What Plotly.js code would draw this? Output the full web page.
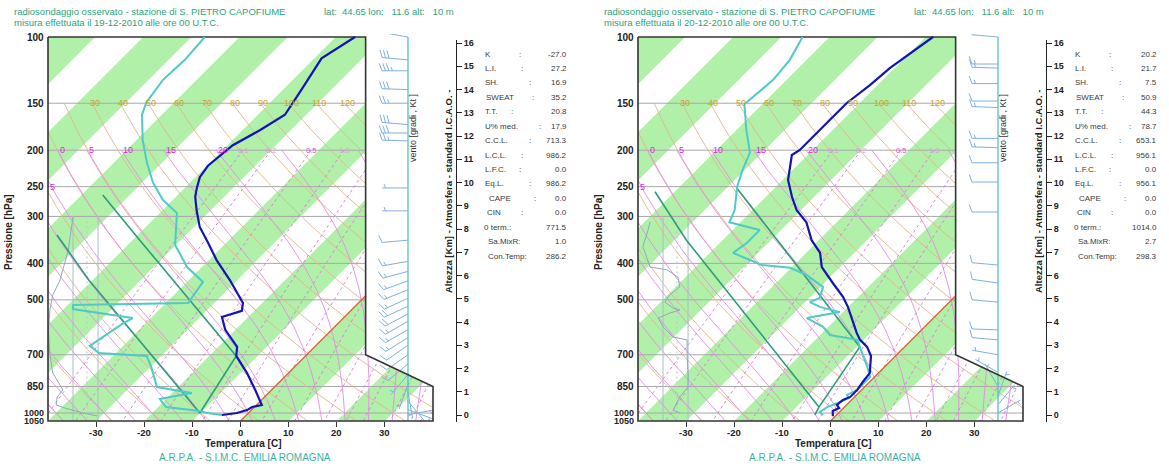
<!DOCTYPE html>
<html><head><meta charset="utf-8">
<script src="https://cdn.plot.ly/plotly-3.0.1.min.js"></script>
<style>html,body{margin:0;padding:0;background:#fff}#chart{width:1169px;height:464px}</style>
</head><body><div id="chart"></div>
<script>
// ================= DATA =================
const pressureTicks=[100,150,200,250,300,400,500,700,850,1000,1050];
const temperatureTicks=[-30,-20,-10,0,10,20,30];
const heightTicks=[0,1,2,3,4,5,6,7,8,9,10,11,12,13,14,15,16];
const thetaValues=[-60,-50,-40,-30,-20,-10,0,10,20,30,40,50,60,70,80,90,100,110,120,130,140,150,160,170];
const thetaLabels=[30,40,50,60,70,80,90,100,110,120];
const thetaWValues=[-40,-35,-30,-25,-20,-15,-10,-5,0,5,10,15,20,25,30,35,40];
const thetaWLabels=[0,5,10,15,20];
const mixingValues=[0.1,0.2,0.5,1,2,3,5,8,12,16,20,28,36];
const mixingLabels=[0.1,0.2,0.5,1.0];

// Sounding 19-12-2010 (pressure hPa, temperature C)
const tempP19=[100,114,140,161,177,194,220,236,252,266,289,320,351,392,443,510,535,555,601,667,705,783,868,952,964,982,1000,1012];
const tempT19=[-56.0,-58.5,-56.0,-54.4,-56.4,-58.9,-59.8,-59.1,-57.5,-56.0,-52.9,-48.8,-44.0,-38.4,-31.5,-24.0,-22.6,-25.5,-22.1,-16.1,-14.4,-8.6,-3.4,1.1,-0.5,-0.9,-2.4,-5.1];
const dewP19=[100,115,130,149,161,188,216,244,271,294,357,409,448,474,510,516,529,559,580,663,692,705,754,853,885,918,964,988,1000,1012];
const dewT19=[-87.2,-86.6,-87.0,-85.8,-84.1,-78.7,-73.1,-67.7,-62.1,-56.4,-50.2,-43.1,-36.7,-36.1,-35.4,-58.9,-58.1,-43.8,-44.8,-46.9,-43.6,-33.0,-29.8,-24.4,-15.9,-21.3,-18.4,-10.5,-8.6,-5.1];
const parcelA19P=[336,443,1000], parcelA19T=[-76.8,-60.8,-10.1];
const parcelB19P=[263,347,705],  parcelB19T=[-75.6,-58.5,-14.4];
const parcelC19P=[1000,705],     parcelC19T=[-10.1,-14.4];
const prof19P=[301,369,443,485,532,601,701,783,868,906,952,970,1000,1018];
const prof19X=[-34.8,-35.8,-37.5,-39.0,-39.6,-39.9,-39.6,-39.0,-36.9,-38.1,-38.3,-36.5,-32.7,-29.8];
const wind19P=[100,115,123,138,150,171,180,189,252,290,347,395,420,445,470,495,520,545,570,600,630,660,700,740,790,840,880,930,980,1010];
const wind19Dir=[280,275,270,272,270,275,270,272,270,270,265,260,255,250,248,245,245,242,240,240,238,235,235,230,220,200,170,140,110,80];
const wind19Spd=[15,30,35,30,25,30,30,25,5,5,10,15,15,15,15,15,20,20,15,15,15,10,10,10,5,5,5,5,5,5];
const stats19=["-27.0","27.2","16.9","35.2","20.8","17.9","713.3","986.2","0.0","986.2","0.0","0.0","771.5","1.0","286.2"];

// Sounding 20-12-2010
const tempP20=[100,121,134,150,166,185,200,206,226,240,266,289,311,347,375,409,451,491,522,566,613,639,667,705,783,827,868,906,923,952,970,988,1020];
const tempT20=[-58.5,-61.0,-61.6,-62.7,-62.7,-62.7,-62.7,-63.3,-60.6,-58.9,-54.6,-50.8,-46.3,-41.5,-37.1,-33.8,-28.2,-23.2,-20.1,-16.5,-12.8,-10.7,-7.8,-5.1,-1.8,-1.4,-0.9,-0.9,-1.8,-2.0,-0.9,-1.6,-0.5];
const dewP20=[100,115,130,144,151,177,203,226,250,289,311,326,353,375,404,411,430,462,494,507,522,539,559,590,620,639,667,701,754,802,868,895,912,935,964,994,1012];
const dewT20=[-85.6,-83.5,-82.8,-83.5,-83.7,-77.9,-72.5,-70.4,-68.1,-63.7,-62.3,-54.4,-54.4,-55.2,-46.7,-40.2,-35.2,-29.4,-27.8,-29.0,-25.9,-20.7,-26.3,-21.1,-18.0,-11.3,-9.3,-7.0,-3.6,-0.9,-0.9,-2.0,-1.0,-2.0,-3.6,-4.1,-2.8];
const parcelA20P=[258,347,964],  parcelA20T=[-84.1,-67.5,-5.3];
const parcelB20P=[252,667],      parcelB20T=[-67.9,-9.3];
const parcelC20P=[1012,964,667], parcelC20T=[-4.5,-5.3,-9.3];
const prof20P=[310,326,362,375,409,416,435,462,485,507,526,532,542,559,590,628,639,705,783,853,906,940,982,1000];
const prof20X=[-37.5,-37.9,-39.0,-38.5,-37.5,-34.0,-31.7,-31.3,-33.4,-34.4,-32.7,-31.3,-33.4,-35.8,-34.8,-32.7,-29.8,-29.8,-29.6,-29.6,-31.3,-31.9,-32.7,-31.3];
const wind20P=[100,118,121,133,148,154,186,197,216,243,292,404,451,507,601,639,700,780,850,900,950,1000];
const wind20Dir=[275,270,272,270,270,272,270,272,270,270,270,275,278,275,272,275,280,300,330,20,40,60];
const wind20Spd=[10,15,15,15,10,15,15,15,10,10,10,10,10,10,10,10,5,5,5,5,5,5];
const stats20=["20.2","21.7","7.5","50.9","44.3","78.7","653.1","956.1","0.0","956.1","0.0","0.0","1014.0","2.7","298.3"];

const statNames=["K","L.I.","SH.","SWEAT","T.T.","U% med.","C.C.L.","L.C.L.","L.F.C.","Eq.L.","CAPE","CIN","0 term.:","Sa.MixR:","Con.Temp:"];

// ================= GEOMETRY / STYLE =================
const W=1169,H=464,PAD=3;
const FONT='Arial, "Liberation Sans", Helvetica, sans-serif';
const A=385/80;                    // px per degree on the temperature axis
const B=384/Math.log(1050/100);    // px per ln(p)
const KS=B/A;                      // skew so isotherms run at 45 degrees
const skew=(T,p)=>T+KS*Math.log(1050/p);
const GREEN='#b0f0a8';
const statLabelX=[484,484,484,485,484,484,484,484,484,484,488,486,483,487,487];
const statColonX=[518,520,528,531,510,538,528,520,518,528,533,520,null,null,null];

function satVap(Tc){return 6.112*Math.exp(17.67*Tc/(Tc+243.5));}
function dryT(theta,p){return (theta+273.15)*Math.pow(p/1000,0.2857)-273.15;}
function mixT(r,p){const e=p*r/(622+r);const L=Math.log(e/6.112);return 243.5*L/(17.67-L);}
function moistAdiabat(thw,pTop){
  const Rd=287.04,cp=1005.7,Lv=2.501e6,eps=0.622;
  const f=(lnp,T)=>{const p=Math.exp(lnp);const e=satVap(T-273.15);const rs=eps*e/(p-e);
    return (Rd*T+Lv*rs)/(cp+Lv*Lv*rs*eps/(Rd*T*T));};
  const step=(l,T,h)=>{const k1=f(l,T);const k2=f(l+h/2,T+h/2*k1);const k3=f(l+h/2,T+h/2*k2);const k4=f(l+h,T+h*k3);return T+h*(k1+2*k2+2*k3+k4)/6;};
  const down=[];let T=thw+273.15,l=Math.log(1000);const h1=(Math.log(1050)-l)/4;
  for(let i=0;i<4;i++){T=step(l,T,h1);l+=h1;down.push([Math.exp(l),T-273.15]);}
  const up=[[1000,thw]];T=thw+273.15;l=Math.log(1000);const n=60,h2=(Math.log(pTop)-l)/n;
  for(let i=0;i<n;i++){T=step(l,T,h2);l+=h2;up.push([Math.exp(l),T-273.15]);}
  return down.reverse().concat(up);
}
function logSpace(p0,p1,n){const o=[];for(let i=0;i<=n;i++)o.push(p0*Math.pow(p1/p0,i/n));return o;}

const traces=[],ann=[];
const layout={width:W,height:H,margin:{l:0,r:0,t:0,b:0},paper_bgcolor:'#fff',plot_bgcolor:'rgba(0,0,0,0)',
  showlegend:false,hovermode:false,annotations:ann};

function line(xa,ya,xs,ys,ln){traces.push({type:'scatter',mode:'lines',x:xs,y:ys,xaxis:xa,yaxis:ya,line:ln,hoverinfo:'skip',showlegend:false});}
function fillPoly(xa,ya,xs,ys,color){traces.push({type:'scatter',mode:'lines',x:xs,y:ys,xaxis:xa,yaxis:ya,fill:'toself',fillcolor:color,line:{width:0,color:color},hoverinfo:'skip',showlegend:false});}
function txt(x,y,text,font,opt){ann.push(Object.assign({xref:'paper',yref:'paper',x:x/W,y:(H-y)/H,text:text,showarrow:false,
  xanchor:'left',yanchor:'middle',borderpad:0,font:font},opt||{}));}

function barbPts(X0,p0,dir,spd,xs,ys){
  const L=26,F=8,gap=3.5,rad=dir*Math.PI/180;
  const ux=Math.sin(rad),uy=-Math.cos(rad);
  const ang=70*Math.PI/180;
  const vx=ux*Math.cos(ang)-uy*Math.sin(ang),vy=ux*Math.sin(ang)+uy*Math.cos(ang);
  const push=(dx,dy)=>{xs.push(X0+dx/A);ys.push(p0*Math.exp(dy/B));};
  push(0,0);push(ux*L,uy*L);xs.push(null);ys.push(null);
  let s=spd,k=0;
  while(s>=10){const bx=ux*(L-k*gap),by=uy*(L-k*gap);push(bx,by);push(bx+vx*F,by+vy*F);xs.push(null);ys.push(null);s-=10;k++;}
  if(s>=5){const kk=Math.max(k,1);const bx=ux*(L-kk*gap),by=uy*(L-kk*gap);push(bx,by);push(bx+vx*F/2,by+vy*F/2);xs.push(null);ys.push(null);}
}

function buildPanel(c){
  const n=c.n,ox=c.ox,sfx=n===1?'':String(n),xa='x'+sfx,ya='y'+sfx;
  const pxL=48+ox,pxR=433+ox;
  layout['xaxis'+sfx]={domain:[(pxL-PAD)/W,(pxR+PAD)/W],range:[-40-PAD/A,40+PAD/A],anchor:'free',position:(H-421)/H,
    showgrid:false,zeroline:false,showline:false,ticks:'outside',ticklen:5,tickwidth:1,tickcolor:'#333',
    tickvals:temperatureTicks,showticklabels:false,fixedrange:true};
  layout['yaxis'+sfx]={type:'log',domain:[(H-421-PAD)/H,(H-37+PAD)/H],
    range:[Math.log10(1050)+PAD/(B*Math.LN10),Math.log10(100)-PAD/(B*Math.LN10)],anchor:xa,
    showgrid:false,zeroline:false,showline:false,ticks:'',showticklabels:false,fixedrange:true};

  // green isotherm bands
  const S=KS*Math.log(10.5);
  for(let t0=-160;t0<=40;t0+=20) fillPoly(xa,ya,[t0,t0+10,t0+10+S,t0+S],[1050,1050,100,100],GREEN);
  // isobars
  let xs=[],ys=[];
  pressureTicks.slice(1,-1).forEach(p=>{xs.push(-40,40,null);ys.push(p,p,null);});
  line(xa,ya,xs,ys,{color:'#a8a8a8',width:1});
  // dry adiabats
  xs=[];ys=[];
  thetaValues.forEach(th=>{logSpace(150,1050,40).forEach(p=>{xs.push(skew(dryT(th,p),p));ys.push(p);});xs.push(null);ys.push(null);});
  line(xa,ya,xs,ys,{color:'#e3b48c',width:0.9});
  // moist adiabats
  xs=[];ys=[];const moistAt200={};
  thetaWValues.forEach(tw=>{const m=moistAdiabat(tw,200);m.forEach(([p,T])=>{if(p>=199.9){xs.push(skew(T,p));ys.push(p);}});
    xs.push(null);ys.push(null);const last=m[m.length-1];moistAt200[tw]=skew(last[1],last[0]);});
  line(xa,ya,xs,ys,{color:'#e68ae6',width:0.9});
  // mixing ratio lines
  xs=[];ys=[];
  mixingValues.forEach(r=>{logSpace(200,1050,20).forEach(p=>{xs.push(skew(mixT(r,p),p));ys.push(p);});xs.push(null);ys.push(null);});
  line(xa,ya,xs,ys,{color:'#d77ad7',width:0.9,dash:'3px,3px'});
  // 0 C isotherm
  line(xa,ya,[skew(0,1050),skew(0,100)],[1050,100],{color:'#e0643a',width:1.4});
  // side frame and profile
  line(xa,ya,[-34.8,-34.8,null,-29.6,-29.6],[300,1050,null,300,1050],{color:'#a9bfca',width:1});
  line(xa,ya,[-31.9,-31.9],[300,1050],{color:'#b9c7d3',width:1,dash:'2px,3px'});
  line(xa,ya,c.profX.map(v=>v),c.profP,{color:'#93a7bd',width:1});
  // white cover outside the notched box
  fillPoly(xa,ya,[-45,-40,-40,-45],[90,90,1100,1100],'#ffffff');
  fillPoly(xa,ya,[26,45,45,40,40,26],[90,90,1100,1100,850,700],'#ffffff');
  fillPoly(xa,ya,[-45,45,45,-45],[90,90,100,100],'#ffffff');
  fillPoly(xa,ya,[-45,45,45,-45],[1050,1050,1100,1100],'#ffffff');
  // wind staff and barbs
  line(xa,ya,[34.8,34.8],[100,1050],{color:'#52c3c3',width:1.3});
  xs=[];ys=[];
  c.windP.forEach((p,i)=>barbPts(34.8,p,c.windDir[i],c.windSpd[i],xs,ys));
  line(xa,ya,xs,ys,{color:'#7fb0e2',width:1});
  // box outline
  line(xa,ya,[-40,26,26,40,40,-40,-40],[100,100,700,850,1050,1050,100],{color:'#343434',width:1.6});
  // parcel lines
  [[c.pAP,c.pAT],[c.pBP,c.pBT],[c.pCP,c.pCT]].forEach(([P,T])=>line(xa,ya,T.map((t,i)=>skew(t,P[i])),P,{color:'#2e9c7c',width:1.6}));
  // dew point and temperature
  line(xa,ya,c.dewT.map((t,i)=>skew(t,c.dewP[i])),c.dewP,{color:'#4ecbc6',width:2});
  line(xa,ya,c.tempT.map((t,i)=>skew(t,c.tempP[i])),c.tempP,{color:'#1414b4',width:2.2});

  // height axis
  const hs=String(n+2);
  layout['xaxis'+hs]={domain:[(456+ox)/W-0.002,(456+ox)/W],range:[0,1],visible:false,anchor:'y'+hs,fixedrange:true};
  layout['yaxis'+hs]={domain:[(H-422)/H,(H-40)/H],range:[-(422-415)/23.25,16+(43-40)/23.25],anchor:'x'+hs,side:'right',
    showline:true,linecolor:'#222',linewidth:1,ticks:'outside',ticklen:5,tickcolor:'#222',tickvals:heightTicks,
    tickfont:{family:FONT,size:9,color:'#222',weight:'bold'},showgrid:false,zeroline:false,fixedrange:true};
  traces.push({type:'scatter',mode:'markers',x:[0.5],y:[0],xaxis:'x'+hs,yaxis:'y'+hs,marker:{size:1,opacity:0},hoverinfo:'skip',showlegend:false});

  // ---- texts ----
  const HEAD={family:FONT,size:9.5,color:'#2aa57c'};
  txt(13+ox,12,'radiosondaggio osservato - stazione di S. PIETRO CAPOFIUME',HEAD);
  txt(323+ox,12,'lat:\u00a0\u00a044.65\u00a0lon:\u00a0\u00a0\u00a011.6\u00a0alt:\u00a0\u00a0\u00a010\u00a0m',HEAD);
  txt(13+ox,22,'misura effettuata il '+c.date+' alle ore 00 U.T.C.',HEAD);
  // pressure labels
  pressureTicks.forEach(p=>ann.push({xref:'paper',yref:ya,x:(45+ox)/W,y:Math.log10(p),text:'<b>'+p+'</b>',showarrow:false,
    xanchor:'right',yanchor:'middle',borderpad:0,font:{family:FONT,size:p>=1000?9:10,color:'#222'}}));
  // temperature labels
  temperatureTicks.forEach(t=>ann.push({xref:xa,yref:'paper',x:t,y:(H-432)/H,text:'<b>'+t+'</b>',showarrow:false,
    xanchor:'center',yanchor:'middle',borderpad:0,font:{family:FONT,size:9.5,color:'#222'}}));
  // theta labels at 150 hPa
  thetaLabels.forEach(th=>ann.push({xref:xa,yref:ya,x:skew(dryT(th,150),150),y:Math.log10(150),text:String(th),showarrow:false,
    xanchor:'center',yanchor:'middle',xshift:3,borderpad:0,font:{family:FONT,size:9,color:'#c9a430'}}));
  // theta-w labels at 200 hPa
  thetaWLabels.forEach(tw=>ann.push({xref:xa,yref:ya,x:moistAt200[tw],y:Math.log10(200),text:String(tw),showarrow:false,
    xanchor:'left',yanchor:'middle',xshift:1,borderpad:0,font:{family:FONT,size:9,color:'#e01ee0'}}));
  ann.push({xref:xa,yref:ya,x:-40,y:Math.log10(250),text:'5',showarrow:false,xanchor:'left',yanchor:'middle',xshift:1,borderpad:0,
    font:{family:FONT,size:9,color:'#e01ee0'}});
  // mixing ratio labels
  mixingLabels.forEach(r=>ann.push({xref:xa,yref:ya,x:skew(mixT(r,200),200),y:Math.log10(200),text:r.toFixed(1),showarrow:false,
    xanchor:'center',yanchor:'middle',borderpad:0,font:{family:FONT,size:7.5,color:r===0.5?'#e050e0':'#d9a0d9'}}));
  // axis titles
  txt(243+ox,443.5,'<b>Temperatura [C]</b>',{family:FONT,size:10,color:'#222'},{xanchor:'center'});
  txt(245+ox,457.5,'A.R.P.A. - S.I.M.C. EMILIA ROMAGNA',{family:FONT,size:10,color:'#3bb3a3'},{xanchor:'center'});
  txt(8+ox,232,'<b>Pressione [hPa]</b>',{family:FONT,size:10,color:'#222'},{xanchor:'center',textangle:-90});
  txt(448+ox,192,'<b>Altezza [Km] - Atmosfera - standard I.C.A.O. -</b>',{family:FONT,size:9.5,color:'#222'},{xanchor:'center',textangle:-90});
  txt(413+ox,128,'vento [gradi , Kt ]',{family:FONT,size:9,color:'#333'},{xanchor:'center',textangle:-90});
  // stats table
  const SF={family:FONT,size:8,color:'#3a3a3a'};
  statNames.forEach((nm,i)=>{
    const y=54+i*14.43;
    txt(statLabelX[i]+ox,y,nm,SF);
    if(statColonX[i]!==null) txt(statColonX[i]+ox,y,':',SF);
    txt(568+ox,y,c.stats[i],SF,{xanchor:'right'});
  });
}

buildPanel({n:1,ox:0,date:'19-12-2010',tempP:tempP19,tempT:tempT19,dewP:dewP19,dewT:dewT19,
  pAP:parcelA19P,pAT:parcelA19T,pBP:parcelB19P,pBT:parcelB19T,pCP:parcelC19P,pCT:parcelC19T,
  profP:prof19P,profX:prof19X,windP:wind19P,windDir:wind19Dir,windSpd:wind19Spd,stats:stats19});
buildPanel({n:2,ox:590,date:'20-12-2010',tempP:tempP20,tempT:tempT20,dewP:dewP20,dewT:dewT20,
  pAP:parcelA20P,pAT:parcelA20T,pBP:parcelB20P,pBT:parcelB20T,pCP:parcelC20P,pCT:parcelC20T,
  profP:prof20P,profX:prof20X,windP:wind20P,windDir:wind20Dir,windSpd:wind20Spd,stats:stats20});

Plotly.newPlot('chart',traces,layout,{staticPlot:true,displayModeBar:false});
</script></body></html>
